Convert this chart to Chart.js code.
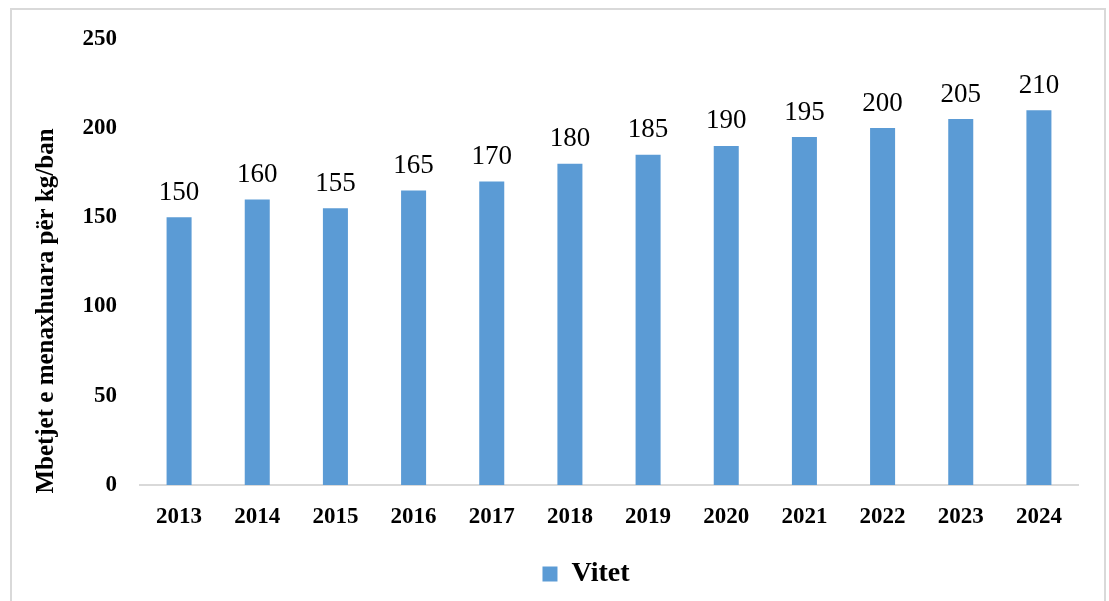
<!DOCTYPE html>
<html>
<head>
<meta charset="utf-8">
<script src="https://cdn.jsdelivr.net/npm/chart.js@4.4.1/dist/chart.umd.min.js"></script>
<style>
  body { margin: 0; background: #fff; }
  .frame {
    position: absolute; left: 10px; top: 8px;
    width: 1092px; height: 591px;
    border: 2px solid #d9d9d9; border-bottom: none;
  }
</style>
</head>
<body>
<div class="frame"><canvas id="chart" width="1092" height="591"></canvas></div>
<script>
// Chart data
const years = ['2013', '2014', '2015', '2016', '2017', '2018', '2019', '2020', '2021', '2022', '2023', '2024'];
const residues = [150, 160, 155, 165, 170, 180, 185, 190, 195, 200, 205, 210];
const yTicks = [0, 50, 100, 150, 200, 250];
const seriesName = 'Vitet';
const yTitle = 'Mbetjet e menaxhuara për kg/ban';

const serif = "'Liberation Serif', 'Times New Roman', serif";

// value labels above each bar
const barLabels = {
    id: 'barLabels',
    afterDatasetsDraw(chart) {
        const ctx = chart.ctx;
        const meta = chart.getDatasetMeta(0);
        ctx.save();
        ctx.font = '27px ' + serif;
        ctx.fillStyle = '#000';
        ctx.textAlign = 'center';
        ctx.textBaseline = 'bottom';
        meta.data.forEach((bar, i) => {
            ctx.fillText(residues[i], bar.x, bar.y - 11);
        });
        ctx.restore();
    }
};

// rotated y axis title
const yAxisTitle = {
    id: 'yAxisTitle',
    afterDraw(chart) {
        const ctx = chart.ctx;
        ctx.save();
        ctx.translate(35, 301);
        ctx.rotate(-Math.PI / 2);
        ctx.font = 'bold 25px ' + serif;
        ctx.fillStyle = '#000';
        ctx.textAlign = 'center';
        ctx.textBaseline = 'middle';
        ctx.fillText(yTitle, 0, 0);
        ctx.restore();
    }
};

// legend sits a bit right of the canvas centre in the original
const shiftLegend = {
    id: 'shiftLegend',
    afterLayout(chart) {
        chart.legend.left += 41;
        chart.legend.right += 41;
    }
};

new Chart(document.getElementById('chart'), {
    type: 'bar',
    data: {
        labels: years,
        datasets: [{
            label: seriesName,
            data: residues,
            backgroundColor: '#5B9BD5',
            categoryPercentage: 1,
            barPercentage: 0.32
        }]
    },
    options: {
        responsive: false,
        animation: false,
        layout: { padding: { top: 16, right: 26, left: 0, bottom: 3 } },
        plugins: {
            tooltip: { enabled: false },
            legend: {
                position: 'bottom',
                labels: {
                    font: { family: serif, size: 28, weight: 'bold' },
                    color: '#000',
                    boxWidth: 15,
                    boxHeight: 15,
                    padding: 6
                }
            }
        },
        scales: {
            x: {
                grid: { display: false },
                border: { display: true, color: '#d9d9d9', width: 2 },
                ticks: {
                    font: { family: serif, size: 23, weight: 'bold' },
                    color: '#000',
                    padding: 10
                },
                afterFit(scale) { scale.height = 69; }
            },
            y: {
                min: 0,
                max: 250,
                afterBuildTicks(scale) { scale.ticks = yTicks.map(v => ({ value: v })); },
                grid: { display: false },
                border: { display: false },
                ticks: {
                    font: { family: serif, size: 23, weight: 'bold' },
                    color: '#000',
                    padding: 15
                },
                afterFit(scale) { scale.width = 128; }
            }
        }
    },
    plugins: [barLabels, yAxisTitle, shiftLegend]
});
</script>
</body>
</html>
